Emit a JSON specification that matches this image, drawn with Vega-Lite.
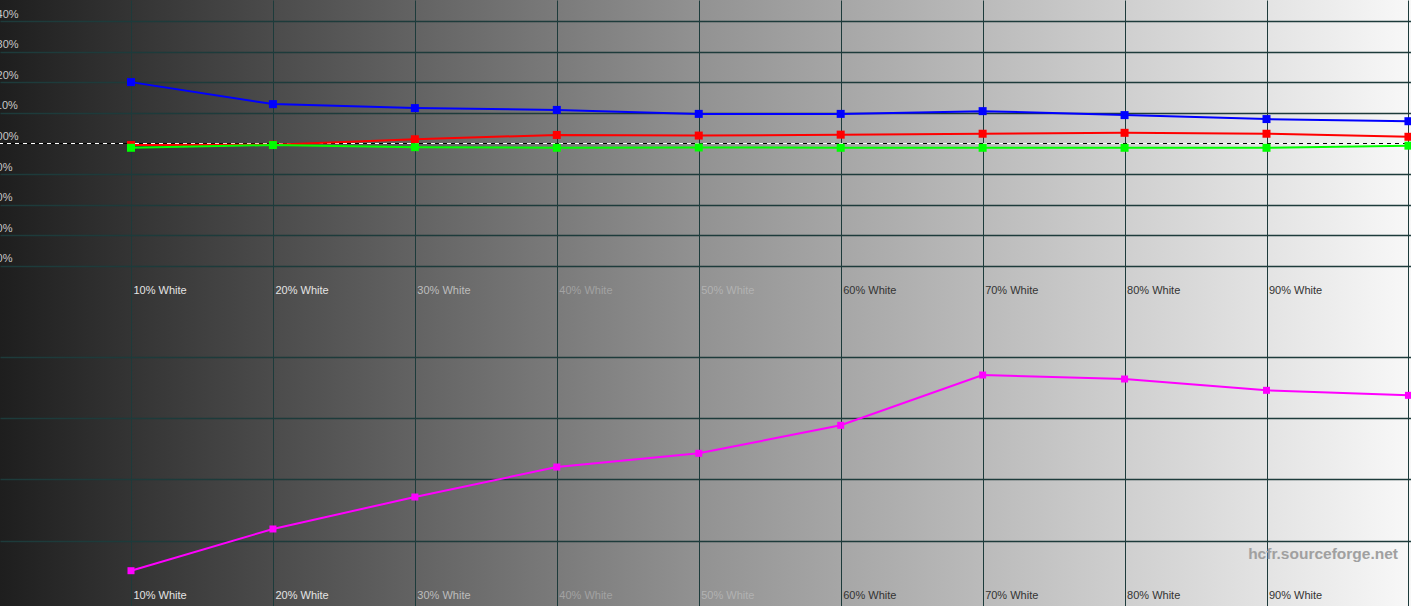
{
  "$schema": "https://vega.github.io/schema/vega-lite/v6.json",
  "width": 1411,
  "height": 606,
  "padding": 0,
  "autosize": {"type": "none"},
  "config": {
    "view": {
      "stroke": null,
      "fill": {
        "gradient": "linear",
        "x1": 0, "y1": 0, "x2": 1, "y2": 0,
        "stops": [
          {"offset": 0, "color": "#1e1e1e"},
          {"offset": 0.5, "color": "#939393"},
          {"offset": 1, "color": "#f8f8f8"}
        ]
      }
    },
    "axis": {
      "gridColor": "#1d3b3b",
      "gridOpacity": 1,
      "domain": false,
      "ticks": false,
      "title": null,
      "labelFont": "Liberation Sans",
      "labelFontSize": 11,
      "labelOverlap": false,
      "labelFlush": false,
      "labelBound": false
    }
  },
  "datasets": {
    "rgb": [
      {"level": 10, "B": 120.1, "R": 99.5, "G": 98.6},
      {"level": 20, "B": 112.9, "R": 99.6, "G": 99.5},
      {"level": 30, "B": 111.6, "R": 101.4, "G": 98.8},
      {"level": 40, "B": 111.0, "R": 102.8, "G": 98.6},
      {"level": 50, "B": 109.7, "R": 102.6, "G": 98.7},
      {"level": 60, "B": 109.7, "R": 102.9, "G": 98.6},
      {"level": 70, "B": 110.6, "R": 103.2, "G": 98.6},
      {"level": 80, "B": 109.3, "R": 103.5, "G": 98.6},
      {"level": 90, "B": 108.0, "R": 103.2, "G": 98.6},
      {"level": 100, "B": 107.3, "R": 102.2, "G": 99.3}
    ],
    "de": [
      {"level": 10, "deltaE": 0.507},
      {"level": 20, "deltaE": 1.189},
      {"level": 30, "deltaE": 1.712},
      {"level": 40, "deltaE": 2.202},
      {"level": 50, "deltaE": 2.426},
      {"level": 60, "deltaE": 2.884},
      {"level": 70, "deltaE": 3.706},
      {"level": 80, "deltaE": 3.641},
      {"level": 90, "deltaE": 3.456},
      {"level": 100, "deltaE": 3.374}
    ],
    "ref": [{"target": 100}]
  },
  "title": {
    "text": "hcfr.sourceforge.net",
    "orient": "bottom",
    "anchor": "end",
    "frame": "group",
    "offset": -47,
    "baseline": "alphabetic",
    "dx": -13,
    "font": "Liberation Sans",
    "fontSize": 15.5,
    "fontWeight": "bold",
    "color": "#a0a0a0"
  },
  "layer": [
    {
      "data": {"name": "rgb"},
      "transform": [{"fold": ["B", "R", "G"], "as": ["channel", "value"]}],
      "layer": [
        {
          "data": {"name": "ref"},
          "mark": {"type": "rule", "color": "#ffffff", "strokeWidth": 1, "strokeDash": [4, 4]},
          "encoding": {
            "y": {"field": "target", "type": "quantitative",
              "scale": {"domain": [-51.44, 146.99], "nice": false, "zero": false},
              "axis": {
                "orient": "left",
                "values": [60, 70, 80, 90, 100, 110, 120, 130, 140],
                "labelExpr": "datum.value + '%'",
                "labelAlign": "left",
                "labelPadding": 10,
                "labelBaseline": "alphabetic",
                "labelOffset": -4,
                "labelColor": "#c8c8c8",
                "gridWidth": 1.5,
                "gridColor": {"condition": {"test": "datum.value == 100", "value": "transparent"}, "value": "#1d3b3b"}
              }
            }
          }
        },
        {
          "data": {"name": "ref"},
          "mark": {"type": "rule", "color": "#000000", "strokeWidth": 1, "strokeDash": [4, 4], "strokeDashOffset": 4},
          "encoding": {
            "y": {"field": "target", "type": "quantitative",
              "scale": {"domain": [-51.44, 146.99], "nice": false, "zero": false}}
          }
        },
        {
          "transform": [{"filter": "datum.channel === 'B'"}],
          "mark": {"type": "line", "color": "#0000ff", "strokeWidth": 2},
          "encoding": {
            "x": {"field": "level", "type": "quantitative",
              "scale": {"domain": [0.771, 100.18], "nice": false, "zero": false},
              "axis": {
                "orient": "bottom",
                "offset": -312.7,
                "grid": false,
                "values": [10, 20, 30, 40, 50, 60, 70, 80, 90],
                "labelExpr": "datum.value + '% White'",
                "labelPadding": 0,
                "labelBaseline": "alphabetic",
                "labelAlign": "left",
                "labelOffset": 2,
                "labelColor": {"condition": [
                  {"test": "datum.value <= 20", "value": "#e4e4e4"},
                  {"test": "datum.value <= 30", "value": "#bdbdbd"},
                  {"test": "datum.value <= 40", "value": "#a2a2a2"},
                  {"test": "datum.value <= 50", "value": "#b2b2b2"}
                ], "value": "#333333"}
              }
            },
            "y": {"field": "value", "type": "quantitative",
              "scale": {"domain": [-51.44, 146.99], "nice": false, "zero": false}}
          }
        },
        {
          "transform": [{"filter": "datum.channel === 'B'"}],
          "mark": {"type": "point", "shape": "square", "filled": true, "size": 64, "color": "#0000ff", "opacity": 1},
          "encoding": {
            "x": {"field": "level", "type": "quantitative", "scale": {"domain": [0.771, 100.18], "nice": false, "zero": false}},
            "y": {"field": "value", "type": "quantitative", "scale": {"domain": [-51.44, 146.99], "nice": false, "zero": false}}
          }
        },
        {
          "transform": [{"filter": "datum.channel === 'R'"}],
          "mark": {"type": "line", "color": "#ff0000", "strokeWidth": 2},
          "encoding": {
            "x": {"field": "level", "type": "quantitative", "scale": {"domain": [0.771, 100.18], "nice": false, "zero": false}},
            "y": {"field": "value", "type": "quantitative", "scale": {"domain": [-51.44, 146.99], "nice": false, "zero": false}}
          }
        },
        {
          "transform": [{"filter": "datum.channel === 'R'"}],
          "mark": {"type": "point", "shape": "square", "filled": true, "size": 64, "color": "#ff0000", "opacity": 1},
          "encoding": {
            "x": {"field": "level", "type": "quantitative", "scale": {"domain": [0.771, 100.18], "nice": false, "zero": false}},
            "y": {"field": "value", "type": "quantitative", "scale": {"domain": [-51.44, 146.99], "nice": false, "zero": false}}
          }
        },
        {
          "transform": [{"filter": "datum.channel === 'G'"}],
          "mark": {"type": "line", "color": "#00ff00", "strokeWidth": 2},
          "encoding": {
            "x": {"field": "level", "type": "quantitative", "scale": {"domain": [0.771, 100.18], "nice": false, "zero": false}},
            "y": {"field": "value", "type": "quantitative", "scale": {"domain": [-51.44, 146.99], "nice": false, "zero": false}}
          }
        },
        {
          "transform": [{"filter": "datum.channel === 'G'"}],
          "mark": {"type": "point", "shape": "square", "filled": true, "size": 64, "color": "#00ff00", "opacity": 1},
          "encoding": {
            "x": {"field": "level", "type": "quantitative", "scale": {"domain": [0.771, 100.18], "nice": false, "zero": false}},
            "y": {"field": "value", "type": "quantitative", "scale": {"domain": [-51.44, 146.99], "nice": false, "zero": false}}
          }
        }
      ]
    },
    {
      "data": {"name": "de"},
      "layer": [
        {
          "mark": {"type": "line", "color": "#ff00ff", "strokeWidth": 2},
          "encoding": {
            "x": {"field": "level", "type": "quantitative",
              "scale": {"domain": [0.771, 100.18], "nice": false, "zero": false},
              "axis": {
                "orient": "bottom",
                "grid": true,
                "gridWidth": 1,
                "values": [10, 20, 30, 40, 50, 60, 70, 80, 90, 100],
                "labelExpr": "datum.value < 100 ? datum.value + '% White' : ''",
                "labelPadding": -7.3,
                "labelBaseline": "alphabetic",
                "labelAlign": "left",
                "labelOffset": 2,
                "labelColor": {"condition": [
                  {"test": "datum.value <= 20", "value": "#e4e4e4"},
                  {"test": "datum.value <= 30", "value": "#bdbdbd"},
                  {"test": "datum.value <= 40", "value": "#a2a2a2"},
                  {"test": "datum.value <= 50", "value": "#b2b2b2"}
                ], "value": "#333333"}
              }
            },
            "y": {"field": "deltaE", "type": "quantitative",
              "scale": {"domain": [-0.07, 9.837], "nice": false, "zero": false},
              "axis": {"orient": "right", "values": [1, 2, 3, 4], "labels": false, "grid": true, "gridWidth": 1.5}
            }
          }
        },
        {
          "mark": {"type": "point", "shape": "square", "filled": true, "size": 49, "color": "#ff00ff", "opacity": 1},
          "encoding": {
            "x": {"field": "level", "type": "quantitative", "scale": {"domain": [0.771, 100.18], "nice": false, "zero": false}},
            "y": {"field": "deltaE", "type": "quantitative", "scale": {"domain": [-0.07, 9.837], "nice": false, "zero": false}}
          }
        }
      ]
    }
  ],
  "resolve": {"scale": {"y": "independent"}, "axis": {"x": "independent", "y": "independent"}}
}
